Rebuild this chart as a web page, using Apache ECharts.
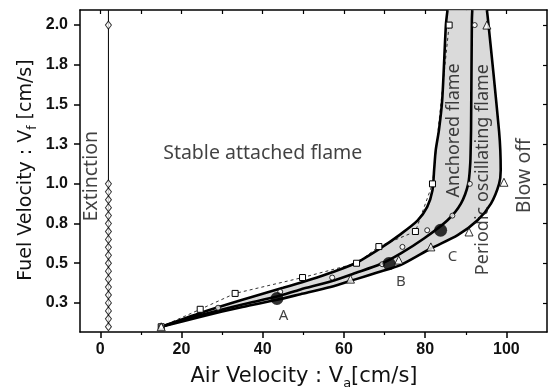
<!DOCTYPE html>
<html>
<head>
<meta charset="utf-8">
<script src="https://cdn.jsdelivr.net/npm/echarts@6/dist/echarts.min.js"></script>
<style>
html,body{margin:0;padding:0;background:#fff;}
#c{width:551px;height:390px;}
</style>
</head>
<body>
<div id="c"></div>
<script>
// ---- axis ticks ----
const xTicks = [0, 20, 40, 60, 80, 100];
const xTickLabels = ['0', '20', '40', '60', '80', '100'];
const xMinorTicks = [10, 30, 50, 70, 90];
const yTicks = [0.25, 0.5, 0.75, 1.0, 1.25, 1.5, 1.75, 2.0];
const yTickLabels = ['0.3', '0.5', '0.8', '1.0', '1.3', '1.5', '1.8', '2.0'];

// ---- fitted boundary curves ----
const anchoredCurveX = [15, 25, 35, 45, 55, 62.8, 69.0, 73.9, 78.1, 80.5, 81.8, 82.2, 82.6, 83.4, 84.2, 85.1, 85.5];
const anchoredCurveY = [0.10, 0.19, 0.27, 0.345, 0.425, 0.50, 0.595, 0.682, 0.768, 0.855, 0.96, 1.086, 1.212, 1.34, 1.53, 2.0, 2.094];
const oscCurveX = [15, 25, 35, 43.5, 49.3, 56.7, 63, 69.0, 73.9, 79.7, 85.5, 88.8, 90.6, 91.1, 91.2, 91.3, 91.5, 91.6];
const oscCurveY = [0.10, 0.175, 0.24, 0.29, 0.335, 0.385, 0.44, 0.495, 0.561, 0.656, 0.771, 0.876, 1.0, 1.128, 1.212, 1.34, 2.03, 2.094];
const blowCurveX = [15, 25, 35, 43.5, 49.3, 56.7, 63, 68, 73.9, 81.4, 88.0, 92.9, 96.2, 98.2, 98.6, 98.5, 98.2, 96.8, 95.4, 95.2];
const blowCurveY = [0.10, 0.165, 0.225, 0.27, 0.305, 0.35, 0.40, 0.44, 0.488, 0.593, 0.677, 0.771, 0.876, 1.0, 1.086, 1.212, 1.33, 1.7, 2.05, 2.094];

// ---- measured points ----
const squareX = [15, 24.6, 33.2, 49.8, 63.1, 68.6, 77.6, 81.8, 85.9];
const squareY = [0.10, 0.21, 0.31, 0.41, 0.50, 0.605, 0.70, 1.0, 2.0];
const circleX = [15, 29, 44.3, 57.1, 69.4, 74.4, 80.5, 86.7, 91.0, 92.2];
const circleY = [0.10, 0.22, 0.32, 0.41, 0.494, 0.603, 0.708, 0.80, 1.0, 2.0];
const triangleX = [15, 61.6, 73.5, 81.4, 90.8, 99.4, 95.2];
const triangleY = [0.10, 0.40, 0.52, 0.603, 0.697, 1.01, 2.0];
const extinctionX = 2;
const extinctionY = [0.10, 0.15, 0.20, 0.25, 0.30, 0.35, 0.40, 0.45, 0.50, 0.55, 0.60, 0.65, 0.70, 0.75, 0.80, 0.85, 0.90, 0.95, 1.00, 2.00];
const extinctionLineY = [0.10, 2.094];
const caseNames = ['A', 'B', 'C'];
const caseX = [43.5, 71.1, 83.8];
const caseY = [0.278, 0.498, 0.708];

// ---- region labels ----
const regionTexts = ['Stable attached flame', 'Extinction', 'Anchored flame', 'Periodic oscillating flame', 'Blow off'];
const regionX = [40.0, -2.2, 87.1, 94.3, 104.4];
const regionY = [1.19, 1.048, 1.337, 1.09, 1.051];
const regionRot = [0, 90, 90, 90, 90];
const regionSize = [19.5, 19.5, 18, 18, 19.5];
const caseLabelX = [45.1, 74.0, 86.7];
const caseLabelY = [0.172, 0.382, 0.54];

const zip = (xs, ys) => xs.map((x, i) => [x, ys[i]]);

const chart = echarts.init(document.getElementById('c'), null, {renderer: 'canvas'});

const axisLineStyle = {color: '#000', width: 1.5};
const option = {
  animation: false,
  backgroundColor: '#fff',
  grid: {left: 80, right: 4, top: 10, bottom: 58, containLabel: false},
  xAxis: [
    {
      type: 'value', min: -5, max: 110, position: 'bottom',
      axisLine: {show: true, onZero: false, lineStyle: axisLineStyle},
      axisTick: {show: true, inside: false, length: 6, customValues: xTicks, lineStyle: {color: '#000', width: 1.5}},
      axisLabel: {customValues: xTicks, margin: 10, fontSize: 16, fontWeight: 'bold', color: '#111', fontFamily: 'Liberation Sans',
        formatter: v => { const i = xTicks.indexOf(v); return i >= 0 ? xTickLabels[i] : ''; }},
      splitLine: {show: false}
    },
    {
      type: 'value', min: -5, max: 110, position: 'bottom',
      axisLine: {show: false},
      axisTick: {show: true, inside: false, length: 3, customValues: xMinorTicks, lineStyle: {color: '#000', width: 1.2}},
      axisLabel: {show: false}, splitLine: {show: false}
    },
    {
      type: 'value', min: -5, max: 110, position: 'top',
      axisLine: {show: true, onZero: false, lineStyle: axisLineStyle},
      axisTick: {show: true, inside: true, length: 4, customValues: xTicks.concat(xMinorTicks), lineStyle: {color: '#000', width: 1.2}},
      axisLabel: {show: false}, splitLine: {show: false}
    }
  ],
  yAxis: [
    {
      type: 'value', min: 0.067, max: 2.095, position: 'left',
      axisLine: {show: true, onZero: false, lineStyle: axisLineStyle},
      axisTick: {show: true, inside: false, length: 6, customValues: yTicks, lineStyle: {color: '#000', width: 1.5}},
      axisLabel: {customValues: yTicks, margin: 12, fontSize: 16, fontWeight: 'bold', color: '#111', fontFamily: 'Liberation Sans',
        formatter: v => { const i = yTicks.findIndex(t => Math.abs(t - v) < 1e-9); return i >= 0 ? yTickLabels[i] : ''; }},
      splitLine: {show: false}
    },
    {
      type: 'value', min: 0.067, max: 2.095, position: 'right',
      axisLine: {show: true, onZero: false, lineStyle: axisLineStyle},
      axisTick: {show: true, inside: true, length: 4, customValues: yTicks, lineStyle: {color: '#000', width: 1.2}},
      axisLabel: {show: false}, splitLine: {show: false}
    }
  ],
  graphic: [
    {
      type: 'text', x: 26, y: 170, rotation: Math.PI / 2,
      style: {
        text: '{n|Fuel Velocity : V}{s|f}{n| [cm/s]}',
        align: 'center', verticalAlign: 'middle',
        rich: {
          n: {fontSize: 19, fontFamily: 'DejaVu Sans', fill: '#111', lineHeight: 26, verticalAlign: 'middle'},
          s: {fontSize: 12, fontFamily: 'DejaVu Sans', fill: '#111', lineHeight: 26, verticalAlign: 'bottom'}
        }
      }
    },
    {
      type: 'text', x: 304, y: 377,
      style: {
        text: '{n|Air Velocity : V}{s|a}{n|[cm/s]}',
        align: 'center', verticalAlign: 'middle',
        rich: {
          n: {fontSize: 21, fontFamily: 'DejaVu Sans', fill: '#111', lineHeight: 26, verticalAlign: 'middle'},
          s: {fontSize: 13, fontFamily: 'DejaVu Sans', fill: '#111', lineHeight: 26, verticalAlign: 'bottom'}
        }
      }
    }
  ],
  series: [
    {
      type: 'custom', name: 'flame band', z: 1, silent: true,
      data: [0],
      renderItem: (params, api) => {
        const pts = [];
        anchoredCurveX.forEach((x, i) => pts.push(api.coord([x, anchoredCurveY[i]])));
        for (let i = blowCurveX.length - 1; i >= 1; i--) pts.push(api.coord([blowCurveX[i], blowCurveY[i]]));
        return {type: 'polygon', shape: {points: pts}, style: {fill: '#dadada', stroke: null}};
      }
    },
    {
      type: 'line', name: 'extinction', z: 2, symbol: 'none', smooth: false,
      data: extinctionLineY.map(y => [extinctionX, y]),
      lineStyle: {color: '#000', width: 1}
    },
    {
      type: 'scatter', name: 'extinction pts', z: 3, symbol: 'diamond', symbolSize: [6, 8],
      data: extinctionY.map(y => [extinctionX, y]),
      itemStyle: {color: '#fff', borderColor: '#000', borderWidth: 1}
    },
    {
      type: 'line', name: 'anchored', z: 2, symbol: 'none', smooth: 0.25,
      data: zip(anchoredCurveX, anchoredCurveY), lineStyle: {color: '#000', width: 2.6}
    },
    {
      type: 'line', name: 'oscillating', z: 2, symbol: 'none', smooth: 0.25,
      data: zip(oscCurveX, oscCurveY), lineStyle: {color: '#000', width: 2.6}
    },
    {
      type: 'line', name: 'blowoff', z: 2, symbol: 'none', smooth: 0.25,
      data: zip(blowCurveX, blowCurveY), lineStyle: {color: '#000', width: 2.6}
    },
    {
      type: 'line', name: 'squares', z: 3, symbol: 'rect', symbolSize: 6, showSymbol: true, smooth: false,
      data: zip(squareX, squareY), lineStyle: {color: '#000', width: 0.8, type: [3, 3]},
      itemStyle: {color: '#fff', borderColor: '#000', borderWidth: 1}
    },
    {
      type: 'scatter', name: 'circles', z: 3, symbol: 'circle', symbolSize: 5,
      data: zip(circleX, circleY), itemStyle: {color: '#fff', borderColor: '#000', borderWidth: 1}
    },
    {
      type: 'scatter', name: 'triangles', z: 3, symbol: 'triangle', symbolSize: 8,
      data: zip(triangleX, triangleY), itemStyle: {color: '#fff', borderColor: '#000', borderWidth: 1}
    },
    {
      type: 'scatter', name: 'cases', z: 4, symbol: 'circle', symbolSize: 13,
      data: zip(caseX, caseY), itemStyle: {color: '#000'}
    },
    {
      type: 'scatter', name: 'region labels', z: 5, symbolSize: 1, silent: true,
      itemStyle: {color: 'rgba(0,0,0,0)'},
      data: regionTexts.map((t, i) => ({
        value: [regionX[i], regionY[i]],
        label: {show: true, position: 'inside', formatter: t, rotate: regionRot[i],
          fontSize: regionSize[i], fontFamily: 'Noto Sans', color: '#111', align: 'center', verticalAlign: 'middle'}
      })).concat(caseNames.map((t, i) => ({
        value: [caseLabelX[i], caseLabelY[i]],
        label: {show: true, position: 'inside', formatter: t,
          fontSize: 15, fontFamily: 'Noto Sans', color: '#111', align: 'center', verticalAlign: 'middle'}
      })))
    }
  ]
};
chart.setOption(option);
</script>
</body>
</html>
